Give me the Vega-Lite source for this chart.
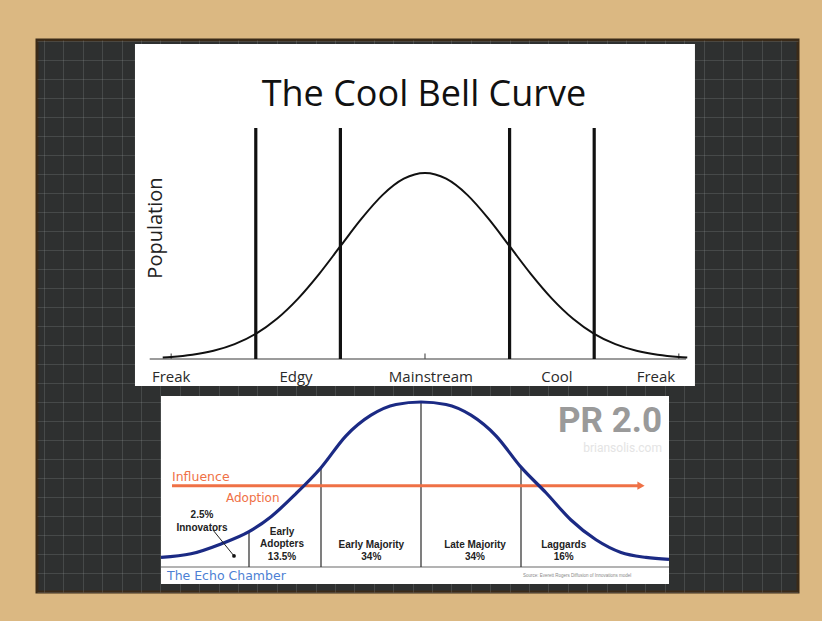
{
  "$schema": "https://vega.github.io/schema/vega-lite/v6.json",
  "width": 822,
  "height": 621,
  "autosize": {"type": "fit", "contains": "padding"},
  "padding": {"left": 37, "top": 40, "right": 24, "bottom": 29},
  "background": "#dbb882",
  "config": {"view": {"fill": "#2e3030", "stroke": "#3a2a18", "strokeWidth": 3}},
  "datasets": {
    "bell": [
      {"z": -3.1, "pop": 0.0082}, {"z": -3.0, "pop": 0.0111}, {"z": -2.75, "pop": 0.0228},
      {"z": -2.5, "pop": 0.0439}, {"z": -2.25, "pop": 0.0796}, {"z": -2.0, "pop": 0.1353},
      {"z": -1.75, "pop": 0.2163}, {"z": -1.5, "pop": 0.3247}, {"z": -1.25, "pop": 0.4578},
      {"z": -1.0, "pop": 0.6065}, {"z": -0.75, "pop": 0.7548}, {"z": -0.5, "pop": 0.8825},
      {"z": -0.25, "pop": 0.9692}, {"z": 0, "pop": 1.0}, {"z": 0.25, "pop": 0.9692},
      {"z": 0.5, "pop": 0.8825}, {"z": 0.75, "pop": 0.7548}, {"z": 1.0, "pop": 0.6065},
      {"z": 1.25, "pop": 0.4578}, {"z": 1.5, "pop": 0.3247}, {"z": 1.75, "pop": 0.2163},
      {"z": 2.0, "pop": 0.1353}, {"z": 2.25, "pop": 0.0796}, {"z": 2.5, "pop": 0.0439},
      {"z": 2.75, "pop": 0.0228}, {"z": 3.0, "pop": 0.0111}, {"z": 3.1, "pop": 0.0082}
    ],
    "zones": [{"z": -2}, {"z": -1}, {"z": 1}, {"z": 2}],
    "ticks": [{"z": -3}, {"z": 0}, {"z": 3}],
    "topLabels": [
      {"label": "Freak", "z": -3.0},
      {"label": "Edgy", "z": -1.525},
      {"label": "Mainstream", "z": 0.07},
      {"label": "Cool", "z": 1.56},
      {"label": "Freak", "z": 2.73}
    ],
    "adoption": [
      {"z": -2.6, "share": 0.058}, {"z": -2.3, "share": 0.08}, {"z": -2.0, "share": 0.14},
      {"z": -1.72, "share": 0.214}, {"z": -1.5, "share": 0.305}, {"z": -1.25, "share": 0.445},
      {"z": -1.0, "share": 0.602}, {"z": -0.75, "share": 0.795}, {"z": -0.5, "share": 0.92},
      {"z": -0.25, "share": 0.985}, {"z": 0, "share": 1.0}, {"z": 0.25, "share": 0.985},
      {"z": 0.5, "share": 0.92}, {"z": 0.75, "share": 0.795}, {"z": 1.0, "share": 0.605},
      {"z": 1.25, "share": 0.45}, {"z": 1.5, "share": 0.285}, {"z": 1.75, "share": 0.165},
      {"z": 2.0, "share": 0.088}, {"z": 2.25, "share": 0.058}, {"z": 2.48, "share": 0.046}
    ],
    "bounds": [
      {"z": -1.72, "top": 0.214}, {"z": -1.0, "top": 0.602},
      {"z": 0, "top": 1.0}, {"z": 1.0, "top": 0.605}
    ],
    "segments": [
      {"segment": "Early\nAdopters", "pct": "13.5%", "center": -1.39},
      {"segment": "Early Majority", "pct": "34%", "center": -0.497},
      {"segment": "Late Majority", "pct": "34%", "center": 0.54},
      {"segment": "Laggards", "pct": "16%", "center": 1.427}
    ]
  },
  "layer": [
    {
      "data": {"values": [{}]},
      "mark": {"type": "point", "opacity": 0},
      "encoding": {
        "x": {"datum": 1, "type": "quantitative", "scale": {"domain": [-0.36, 38.87], "nice": false, "zero": false},
          "axis": {"grid": true, "gridColor": "#a0a4a4", "gridOpacity": 0.22, "gridWidth": 1, "labels": false, "ticks": false, "domain": false, "title": null, "tickCount": 40, "minExtent": 0, "maxExtent": 0}},
        "y": {"datum": 1, "type": "quantitative", "scale": {"domain": [0, 29.05], "nice": false, "zero": false},
          "axis": {"grid": true, "gridColor": "#a0a4a4", "gridOpacity": 0.22, "gridWidth": 1, "labels": false, "ticks": false, "domain": false, "title": null, "tickCount": 30, "minExtent": 0, "maxExtent": 0}}
      }
    },
    {
      "layer": [
        {
          "data": {"values": [{}]},
          "mark": {"type": "rect", "fill": "#ffffff"},
          "encoding": {
            "x": {"datum": -3.428, "type": "quantitative", "scale": {"domain": [-4.586, 4.409], "nice": false, "zero": false}, "axis": null},
            "x2": {"datum": 3.191},
            "y": {"datum": -0.1452, "type": "quantitative", "scale": {"domain": [-1.2527, 1.7151], "nice": false, "zero": false}, "axis": null},
            "y2": {"datum": 1.6935}
          }
        },
        {
          "data": {"values": [{}]},
          "mark": {"type": "rule", "color": "#7a7a7a", "strokeWidth": 1.5},
          "encoding": {
            "x": {"datum": -3.254, "type": "quantitative", "scale": {"domain": [-4.586, 4.409], "nice": false, "zero": false}, "axis": null},
            "x2": {"datum": 3.085},
            "y": {"datum": 0, "type": "quantitative", "scale": {"domain": [-1.2527, 1.7151], "nice": false, "zero": false}, "axis": null}
          }
        },
        {
          "data": {"name": "ticks"},
          "mark": {"type": "rule", "color": "#555555", "strokeWidth": 1.2},
          "encoding": {
            "x": {"field": "z", "type": "quantitative", "scale": {"domain": [-4.586, 4.409], "nice": false, "zero": false}, "axis": null},
            "y": {"datum": 0, "type": "quantitative", "scale": {"domain": [-1.2527, 1.7151], "nice": false, "zero": false}, "axis": null},
            "y2": {"datum": 0.03}
          }
        },
        {
          "data": {"name": "bell"},
          "mark": {"type": "line", "color": "#111111", "strokeWidth": 2, "interpolate": "monotone"},
          "encoding": {
            "x": {"field": "z", "type": "quantitative", "scale": {"domain": [-4.586, 4.409], "nice": false, "zero": false}, "axis": null},
            "y": {"field": "pop", "type": "quantitative", "scale": {"domain": [-1.2527, 1.7151], "nice": false, "zero": false}, "axis": null}
          }
        },
        {
          "data": {"name": "zones"},
          "mark": {"type": "rule", "color": "#111111", "strokeWidth": 3.2},
          "encoding": {
            "x": {"field": "z", "type": "quantitative", "scale": {"domain": [-4.586, 4.409], "nice": false, "zero": false}, "axis": null},
            "y": {"datum": 0, "type": "quantitative", "scale": {"domain": [-1.2527, 1.7151], "nice": false, "zero": false}, "axis": null},
            "y2": {"datum": 1.242}
          }
        },
        {
          "data": {"values": [{}]},
          "mark": {"type": "text", "text": "The Cool Bell Curve", "font": "Open Sans", "fontSize": 36, "color": "#111111", "align": "center", "baseline": "alphabetic"},
          "encoding": {
            "x": {"datum": -0.012, "type": "quantitative", "scale": {"domain": [-4.586, 4.409], "nice": false, "zero": false}, "axis": null},
            "y": {"datum": 1.36, "type": "quantitative", "scale": {"domain": [-1.2527, 1.7151], "nice": false, "zero": false}, "axis": null}
          }
        },
        {
          "data": {"values": [{}]},
          "mark": {"type": "text", "text": "Population", "font": "Open Sans", "fontSize": 20, "color": "#222222", "align": "center", "baseline": "middle", "angle": 270},
          "encoding": {
            "x": {"datum": -3.18, "type": "quantitative", "scale": {"domain": [-4.586, 4.409], "nice": false, "zero": false}, "axis": null},
            "y": {"datum": 0.704, "type": "quantitative", "scale": {"domain": [-1.2527, 1.7151], "nice": false, "zero": false}, "axis": null}
          }
        },
        {
          "data": {"name": "topLabels"},
          "mark": {"type": "text", "font": "Open Sans", "fontSize": 15, "color": "#2a2a2a", "align": "center", "baseline": "alphabetic"},
          "encoding": {
            "text": {"field": "label"},
            "x": {"field": "z", "type": "quantitative", "scale": {"domain": [-4.586, 4.409], "nice": false, "zero": false}, "axis": null},
            "y": {"datum": -0.124, "type": "quantitative", "scale": {"domain": [-1.2527, 1.7151], "nice": false, "zero": false}, "axis": null}
          }
        }
      ]
    },
    {
      "layer": [
        {
          "data": {"values": [{}]},
          "mark": {"type": "rect", "fill": "#ffffff"},
          "encoding": {
            "x": {"datum": -2.6, "type": "quantitative", "scale": {"domain": [-3.84, 3.77], "nice": false, "zero": false}, "axis": null},
            "x2": {"datum": 2.48},
            "y": {"datum": -0.103, "type": "quantitative", "scale": {"domain": [-0.1515, 3.194], "nice": false, "zero": false}, "axis": null},
            "y2": {"datum": 1.036}
          }
        },
        {
          "data": {"values": [{}]},
          "mark": {"type": "rule", "color": "#9a9a9a", "strokeWidth": 1.5},
          "encoding": {
            "x": {"datum": -2.6, "type": "quantitative", "scale": {"domain": [-3.84, 3.77], "nice": false, "zero": false}, "axis": null},
            "x2": {"datum": 2.48},
            "y": {"datum": 0, "type": "quantitative", "scale": {"domain": [-0.1515, 3.194], "nice": false, "zero": false}, "axis": null}
          }
        },
        {
          "data": {"name": "bounds"},
          "mark": {"type": "rule", "color": "#3a3a3a", "strokeWidth": 1.3},
          "encoding": {
            "x": {"field": "z", "type": "quantitative", "scale": {"domain": [-3.84, 3.77], "nice": false, "zero": false}, "axis": null},
            "y": {"field": "top", "type": "quantitative", "scale": {"domain": [-0.1515, 3.194], "nice": false, "zero": false}, "axis": null},
            "y2": {"datum": 0}
          }
        },
        {
          "data": {"values": [{}]},
          "mark": {"type": "rule", "color": "#ef7146", "strokeWidth": 3},
          "encoding": {
            "x": {"datum": -2.49, "type": "quantitative", "scale": {"domain": [-3.84, 3.77], "nice": false, "zero": false}, "axis": null},
            "x2": {"datum": 2.18},
            "y": {"datum": 0.493, "type": "quantitative", "scale": {"domain": [-0.1515, 3.194], "nice": false, "zero": false}, "axis": null}
          }
        },
        {
          "data": {"values": [{}]},
          "mark": {"type": "point", "shape": "triangle-right", "filled": true, "color": "#ef7146", "size": 70, "opacity": 1},
          "encoding": {
            "x": {"datum": 2.2, "type": "quantitative", "scale": {"domain": [-3.84, 3.77], "nice": false, "zero": false}, "axis": null},
            "y": {"datum": 0.493, "type": "quantitative", "scale": {"domain": [-0.1515, 3.194], "nice": false, "zero": false}, "axis": null}
          }
        },
        {
          "data": {"name": "adoption"},
          "mark": {"type": "line", "color": "#1b2a84", "strokeWidth": 3.2, "interpolate": "monotone"},
          "encoding": {
            "x": {"field": "z", "type": "quantitative", "scale": {"domain": [-3.84, 3.77], "nice": false, "zero": false}, "axis": null},
            "y": {"field": "share", "type": "quantitative", "scale": {"domain": [-0.1515, 3.194], "nice": false, "zero": false}, "axis": null}
          }
        },
        {
          "data": {"values": [{}]},
          "mark": {"type": "text", "text": "Influence", "font": "DejaVu Sans", "fontSize": 12.5, "color": "#ef7146", "align": "left", "baseline": "alphabetic"},
          "encoding": {
            "x": {"datum": -2.49, "type": "quantitative", "scale": {"domain": [-3.84, 3.77], "nice": false, "zero": false}, "axis": null},
            "y": {"datum": 0.521, "type": "quantitative", "scale": {"domain": [-0.1515, 3.194], "nice": false, "zero": false}, "axis": null}
          }
        },
        {
          "data": {"values": [{}]},
          "mark": {"type": "text", "text": "Adoption", "font": "DejaVu Sans", "fontSize": 12, "color": "#ef7146", "align": "left", "baseline": "alphabetic"},
          "encoding": {
            "x": {"datum": -1.95, "type": "quantitative", "scale": {"domain": [-3.84, 3.77], "nice": false, "zero": false}, "axis": null},
            "y": {"datum": 0.394, "type": "quantitative", "scale": {"domain": [-0.1515, 3.194], "nice": false, "zero": false}, "axis": null}
          }
        },
        {
          "data": {"values": [{}]},
          "mark": {"type": "text", "text": "2.5%\nInnovators", "lineBreak": "\n", "lineHeight": 13, "font": "Liberation Sans", "fontWeight": "bold", "fontSize": 10, "color": "#222222", "align": "center", "baseline": "alphabetic"},
          "encoding": {
            "x": {"datum": -2.19, "type": "quantitative", "scale": {"domain": [-3.84, 3.77], "nice": false, "zero": false}, "axis": null},
            "y": {"datum": 0.299, "type": "quantitative", "scale": {"domain": [-0.1515, 3.194], "nice": false, "zero": false}, "axis": null}
          }
        },
        {
          "data": {"values": [{}]},
          "mark": {"type": "rule", "color": "#222222", "strokeWidth": 1},
          "encoding": {
            "x": {"datum": -2.08, "type": "quantitative", "scale": {"domain": [-3.84, 3.77], "nice": false, "zero": false}, "axis": null},
            "x2": {"datum": -1.87},
            "y": {"datum": 0.224, "type": "quantitative", "scale": {"domain": [-0.1515, 3.194], "nice": false, "zero": false}, "axis": null},
            "y2": {"datum": 0.067}
          }
        },
        {
          "data": {"values": [{}]},
          "mark": {"type": "point", "filled": true, "color": "#111111", "size": 14, "opacity": 1},
          "encoding": {
            "x": {"datum": -1.87, "type": "quantitative", "scale": {"domain": [-3.84, 3.77], "nice": false, "zero": false}, "axis": null},
            "y": {"datum": 0.067, "type": "quantitative", "scale": {"domain": [-0.1515, 3.194], "nice": false, "zero": false}, "axis": null}
          }
        },
        {
          "data": {"name": "segments"},
          "transform": [{"filter": {"not": {"field": "pct", "equal": "13.5%"}}}],
          "mark": {"type": "text", "font": "Liberation Sans", "fontWeight": "bold", "fontSize": 10, "color": "#222222", "align": "center", "baseline": "bottom"},
          "encoding": {
            "text": {"field": "segment"},
            "x": {"field": "center", "type": "quantitative", "scale": {"domain": [-3.84, 3.77], "nice": false, "zero": false}, "axis": null},
            "y": {"datum": 0.103, "type": "quantitative", "scale": {"domain": [-0.1515, 3.194], "nice": false, "zero": false}, "axis": null}
          }
        },
        {
          "data": {"name": "segments"},
          "transform": [{"filter": {"field": "pct", "equal": "13.5%"}}],
          "mark": {"type": "text", "lineBreak": "\n", "lineHeight": 12.5, "font": "Liberation Sans", "fontWeight": "bold", "fontSize": 10, "color": "#222222", "align": "center", "baseline": "bottom"},
          "encoding": {
            "text": {"field": "segment"},
            "x": {"field": "center", "type": "quantitative", "scale": {"domain": [-3.84, 3.77], "nice": false, "zero": false}, "axis": null},
            "y": {"datum": 0.182, "type": "quantitative", "scale": {"domain": [-0.1515, 3.194], "nice": false, "zero": false}, "axis": null}
          }
        },
        {
          "data": {"name": "segments"},
          "mark": {"type": "text", "font": "Liberation Sans", "fontWeight": "bold", "fontSize": 10, "color": "#222222", "align": "center", "baseline": "alphabetic"},
          "encoding": {
            "text": {"field": "pct"},
            "x": {"field": "center", "type": "quantitative", "scale": {"domain": [-3.84, 3.77], "nice": false, "zero": false}, "axis": null},
            "y": {"datum": 0.045, "type": "quantitative", "scale": {"domain": [-0.1515, 3.194], "nice": false, "zero": false}, "axis": null}
          }
        },
        {
          "data": {"values": [{}]},
          "mark": {"type": "text", "text": "The Echo Chamber", "font": "DejaVu Sans", "fontSize": 12.5, "color": "#4d7fd4", "align": "left", "baseline": "alphabetic"},
          "encoding": {
            "x": {"datum": -2.54, "type": "quantitative", "scale": {"domain": [-3.84, 3.77], "nice": false, "zero": false}, "axis": null},
            "y": {"datum": -0.079, "type": "quantitative", "scale": {"domain": [-0.1515, 3.194], "nice": false, "zero": false}, "axis": null}
          }
        },
        {
          "data": {"values": [{}]},
          "mark": {"type": "text", "text": "Source: Everett Rogers Diffusion of Innovations model", "font": "Liberation Sans", "fontSize": 4.5, "color": "#888888", "align": "left", "baseline": "alphabetic"},
          "encoding": {
            "x": {"datum": 1.02, "type": "quantitative", "scale": {"domain": [-3.84, 3.77], "nice": false, "zero": false}, "axis": null},
            "y": {"datum": -0.06, "type": "quantitative", "scale": {"domain": [-0.1515, 3.194], "nice": false, "zero": false}, "axis": null}
          }
        },
        {
          "data": {"values": [{}]},
          "mark": {"type": "text", "text": "PR 2.0", "font": "Roboto", "fontWeight": "bold", "fontSize": 35, "color": "#9a9a9a", "align": "right", "baseline": "alphabetic"},
          "encoding": {
            "x": {"datum": 2.41, "type": "quantitative", "scale": {"domain": [-3.84, 3.77], "nice": false, "zero": false}, "axis": null},
            "y": {"datum": 0.818, "type": "quantitative", "scale": {"domain": [-0.1515, 3.194], "nice": false, "zero": false}, "axis": null}
          }
        },
        {
          "data": {"values": [{}]},
          "mark": {"type": "text", "text": "briansolis.com", "font": "Roboto", "fontSize": 12, "color": "#e4e4e4", "align": "right", "baseline": "alphabetic"},
          "encoding": {
            "x": {"datum": 2.41, "type": "quantitative", "scale": {"domain": [-3.84, 3.77], "nice": false, "zero": false}, "axis": null},
            "y": {"datum": 0.697, "type": "quantitative", "scale": {"domain": [-0.1515, 3.194], "nice": false, "zero": false}, "axis": null}
          }
        }
      ]
    }
  ],
  "resolve": {"scale": {"x": "independent", "y": "independent"}, "axis": {"x": "independent", "y": "independent"}}
}
